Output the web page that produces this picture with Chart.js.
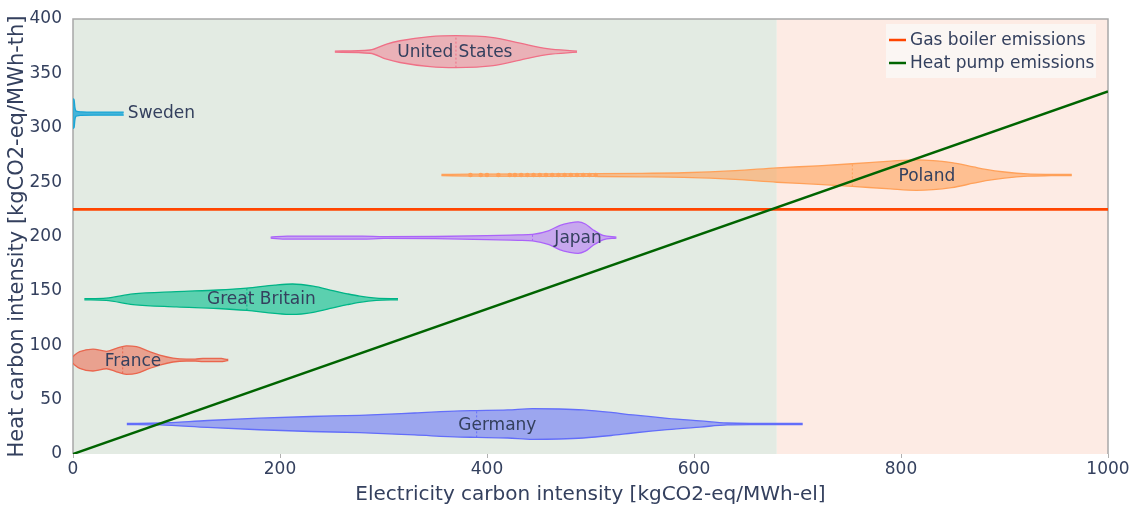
<!DOCTYPE html>
<html>
<head>
<meta charset="utf-8">
<script src="https://cdn.jsdelivr.net/npm/chart.js@4.4.1/dist/chart.umd.min.js"></script>
<style>
  html, body { margin: 0; padding: 0; background: #fff; }
  #wrap { width: 1131px; height: 507px; }
</style>
</head>
<body>
<div id="wrap"><canvas id="chart"></canvas></div>
<script>
// country order, centre line (heat intensity) and median (electricity intensity)
const countries = ["United States", "Sweden", "Poland", "Japan", "Great Britain", "France", "Germany"];
const centres = [370, 313, 256.5, 199, 142.3, 86.4, 27.6];
const medians = [370, null, 753, 444, 168, 48, 390];

// violin profiles: electricity intensity vs half-width (heat units)
const usX = [253, 287, 303, 316, 345, 370, 406, 432, 458, 487];
const usW = [0.5, 1.5, 7, 10, 13.8, 14.7, 12.9, 7.8, 2.8, 0.5];
const swX = [0, 1, 1.8, 2.5, 4, 8, 20, 49];
const swW = [13.5, 13, 6, 3, 2, 1.6, 1.4, 1.4];
const plX = [356, 385, 505, 550, 590, 640, 680, 720, 753, 790, 815, 849, 870, 882, 900, 922, 945, 965];
const plW = [0.5, 0.9, 1.3, 1.6, 2.1, 4, 6.6, 8.5, 10.4, 12.8, 14, 11.5, 7.5, 5.2, 2.8, 1, 0.6, 0.5];
const jpX = [191, 207, 280, 300, 350, 400, 430, 444, 460, 470, 480, 488, 495, 502, 512, 525];
const jpW = [0.5, 1.4, 1.4, 0.8, 1, 1.8, 2.5, 3, 6.5, 11, 13.5, 14.5, 12.5, 7.5, 2, 0.5];
const gbX = [11, 32, 58, 100, 140, 168, 195, 212, 232, 251, 265, 277, 293, 314];
const gbW = [0.5, 1, 4.9, 7, 8.5, 10.3, 13, 14, 12, 8, 5, 2.8, 1, 0.5];
const frX = [0, 1.6, 6.5, 19.3, 32.3, 41.9, 51.6, 61.3, 74.1, 83.8, 96.6, 109.6, 118, 125.6, 143.4, 147, 150];
const frW = [3, 4.6, 7.7, 10.1, 8, 10.8, 13.1, 12.3, 7.7, 4.6, 1.8, 0.9, 0.9, 1.5, 1.5, 0.9, 0.5];
const deX = [52, 84, 130, 180, 230, 277, 330, 374, 390, 420, 444, 470, 493, 520, 541, 574, 606, 632, 660, 705];
const deW = [0.5, 0.9, 3.2, 5.3, 6.9, 8, 10.1, 12, 12.3, 12.9, 14.1, 13.8, 12.9, 10.6, 8.3, 5.2, 2.8, 0.9, 0.6, 0.5];
const profiles = [[usX, usW], [swX, swW], [plX, plW], [jpX, jpW], [gbX, gbW], [frX, frW], [deX, deW]];

// Poland outlier points along the tail
const plDots = [384, 394, 400, 411, 422, 427, 433, 439, 445, 451, 457, 463, 469, 475, 481, 487, 493, 499, 505];

// label anchors
const labelX = [369, 53, 825, 488, 182, 58, 410];
const labelY = [369.5, 313, 255, 198, 141.6, 84.6, 25.7];

// reference lines
const boilerX = [0, 1000];
const boilerY = [225, 225];
const pumpX = [0, 1000];
const pumpY = [0, 333.3];

// shaded zones along x
const zoneEdges = [0, 680, 1000];

const textColor = "#34405e";
const palette = [
  { line: "#ef6f86", fill: "rgba(242,120,140,0.5)" },
  { line: "#1ba6d6", fill: "rgba(27,166,214,0.8)" },
  { line: "#ffa15a", fill: "rgba(255,161,90,0.6)" },
  { line: "#ab63fa", fill: "rgba(171,99,250,0.5)" },
  { line: "#00b386", fill: "rgba(0,190,140,0.6)" },
  { line: "#e8674f", fill: "rgba(239,100,75,0.55)" },
  { line: "#636efa", fill: "rgba(99,110,250,0.55)" },
];
const zoneColors = ["#e3ebe3", "#fdebe4"];

function widthAt(xs, ws, x) {
  for (let k = 1; k < xs.length; k++) {
    if (x <= xs[k]) {
      const t = (x - xs[k - 1]) / (xs[k] - xs[k - 1]);
      return ws[k - 1] + t * (ws[k] - ws[k - 1]);
    }
  }
  return ws[ws.length - 1];
}

const datasets = [
  {
    label: "Heat pump emissions",
    data: pumpX.map((x, i) => ({ x, y: pumpY[i] })),
    showLine: true, borderColor: "#006400", borderWidth: 2.5, pointRadius: 0,
  },
  {
    label: "Gas boiler emissions",
    data: boilerX.map((x, i) => ({ x, y: boilerY[i] })),
    showLine: true, borderColor: "#ff4500", borderWidth: 2.8, pointRadius: 0,
  },
];

countries.forEach((name, i) => {
  const [xs, ws] = profiles[i];
  const c = centres[i];
  const col = palette[i];
  if (medians[i] !== null) {
    const hw = widthAt(xs, ws, medians[i]);
    datasets.push({
      label: name + " median",
      data: [{ x: medians[i], y: c - hw }, { x: medians[i], y: c + hw }],
      showLine: true, borderColor: col.line, borderWidth: 1, borderDash: [2, 2], pointRadius: 0,
    });
  }
  if (name === "Poland") {
    datasets.push({
      label: "Poland outliers",
      data: plDots.map((x) => ({ x, y: c })),
      showLine: false, pointRadius: 2.3, pointBackgroundColor: col.line, pointBorderWidth: 0,
    });
  }
  datasets.push({
    label: name,
    data: xs.map((x, k) => ({ x, y: c + ws[k] })),
    showLine: true, fill: "+1", backgroundColor: col.fill, borderColor: col.line,
    borderWidth: 1.3, pointRadius: 0, cubicInterpolationMode: "monotone",
  });
  datasets.push({
    label: name + " low",
    data: xs.map((x, k) => ({ x, y: c - ws[k] })),
    showLine: true, fill: false, borderColor: col.line,
    borderWidth: 1.3, pointRadius: 0, cubicInterpolationMode: "monotone",
  });
});

const backdrop = {
  id: "backdrop",
  beforeDraw(chart) {
    const { ctx, chartArea: a, scales: { x } } = chart;
    ctx.save();
    for (let i = 0; i < zoneColors.length; i++) {
      const x0 = x.getPixelForValue(zoneEdges[i]);
      const x1 = x.getPixelForValue(zoneEdges[i + 1]);
      ctx.fillStyle = zoneColors[i];
      ctx.fillRect(x0, a.top, x1 - x0, a.bottom - a.top);
    }
    ctx.strokeStyle = "#a8a8a8";
    ctx.lineWidth = 1.5;
    ctx.beginPath();
    ctx.moveTo(a.left, a.bottom);
    ctx.lineTo(a.left, a.top);
    ctx.lineTo(a.right, a.top);
    ctx.lineTo(a.right, a.bottom);
    ctx.stroke();
    ctx.restore();
  },
  afterDatasetsDraw(chart) {
    const { ctx, chartArea: a, scales: { x, y } } = chart;
    ctx.save();
    ctx.font = '17px "DejaVu Sans"';
    ctx.fillStyle = textColor;
    ctx.textBaseline = "middle";
    countries.forEach((name, i) => {
      ctx.textAlign = name === "Sweden" ? "left" : "center";
      ctx.fillText(name, x.getPixelForValue(labelX[i]), y.getPixelForValue(labelY[i]));
    });
    // legend
    const bx = a.right - 222, by = a.top + 5;
    ctx.fillStyle = "rgba(250,248,246,0.85)";
    ctx.fillRect(bx, by, 210, 54);
    const items = [["Gas boiler emissions", "#ff4500"], ["Heat pump emissions", "#006400"]];
    ctx.font = '17px "DejaVu Sans"';
    ctx.textAlign = "left";
    items.forEach(([txt, c], k) => {
      const yy = by + 16 + k * 23;
      ctx.strokeStyle = c;
      ctx.lineWidth = 2.5;
      ctx.beginPath();
      ctx.moveTo(bx + 3, yy);
      ctx.lineTo(bx + 20, yy);
      ctx.stroke();
      ctx.fillStyle = textColor;
      ctx.fillText(txt, bx + 24, yy + 1);
    });
    ctx.restore();
  },
};

new Chart(document.getElementById("chart"), {
  type: "scatter",
  data: { datasets },
  plugins: [backdrop],
  options: {
    responsive: true,
    maintainAspectRatio: false,
    animation: false,
    layout: { padding: { top: 19, right: 23, left: 0, bottom: 0 } },
    plugins: {
      legend: { display: false },
      tooltip: { enabled: false },
    },
    scales: {
      x: {
        type: "linear", min: 0, max: 1000,
        afterFit: (s) => { s.height = 53; },
        ticks: {
          stepSize: 200, color: textColor, font: { family: "DejaVu Sans", size: 17 }, padding: 1, maxRotation: 0,
          callback: (v) => String(v),
        },
        grid: { drawOnChartArea: false, tickLength: 4, color: "#b0b0b0" },
        border: { display: false },
        title: {
          display: true, text: "Electricity carbon intensity [kgCO2-eq/MWh-el]",
          color: textColor, font: { family: "DejaVu Sans", size: 20 }, padding: { top: 0, bottom: 0 },
        },
      },
      y: {
        type: "linear", min: 0, max: 400,
        afterFit: (s) => { s.width = 73; },
        ticks: { stepSize: 50, color: textColor, font: { family: "DejaVu Sans", size: 17 }, padding: 3 },
        grid: { display: false },
        border: { display: false },
        title: {
          display: true, text: "Heat carbon intensity [kgCO2-eq/MWh-th]",
          color: textColor, font: { family: "DejaVu Sans", size: 21 }, padding: { top: 5, bottom: 0 },
        },
      },
    },
  },
});
</script>
</body>
</html>
